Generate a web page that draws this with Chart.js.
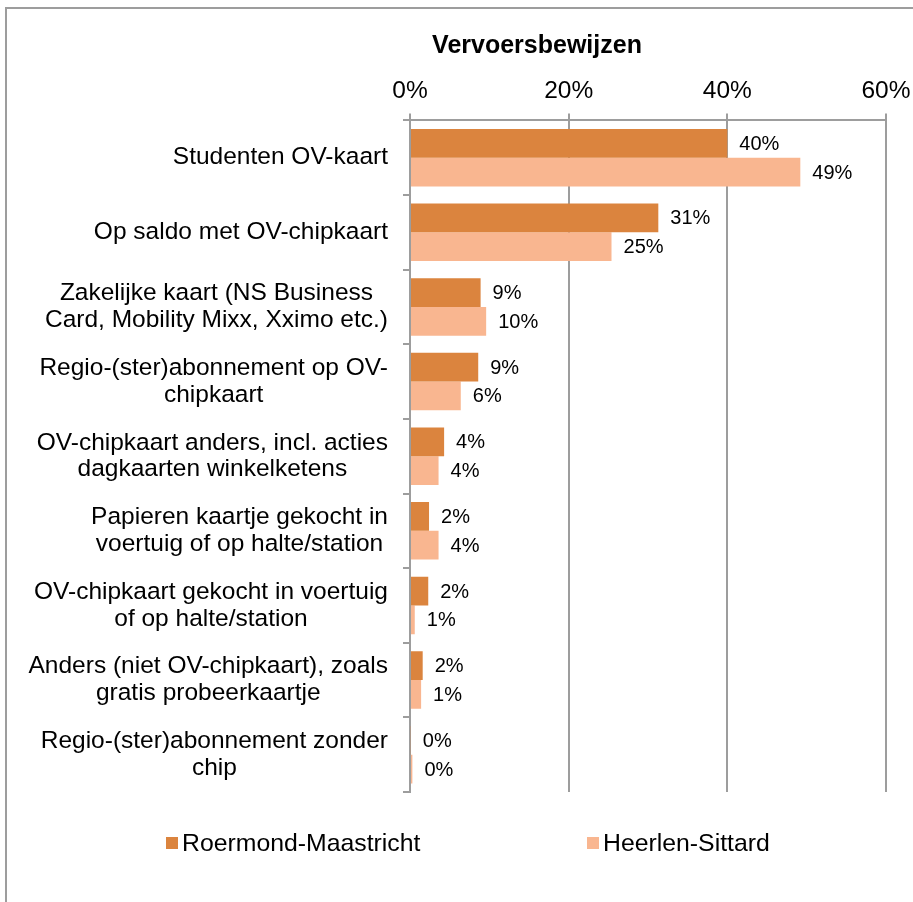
<!DOCTYPE html>
<html lang="nl">
<head>
  <meta charset="UTF-8">
  <title>Vervoersbewijzen</title>
  <style type="text/css">
    body, html {
      margin: 0;
      padding: 0;
      background-color: #fff;
      overflow: hidden;
    }

    .frame {
      position: absolute;
      left: 5px;
      top: 7px;
      width: 1000px;
      height: 1000px;
      border-top: 2px solid #9d9d9d;
      border-left: 2px solid #9d9d9d;
    }

    .chart-box {
      position: absolute;
      left: 0;
      top: 0;
      width: 913px;
      height: 902px;
    }
  </style>
  <script src="https://cdn.jsdelivr.net/npm/chart.js"></script>
</head>
<body>
  <div class="frame"></div>
  <div class="chart-box">
    <canvas id="chart"></canvas>
  </div>

  <script>
    // categories (multi-line as in the original)
    const categories = [
      ["Studenten OV-kaart"],
      ["Op saldo met OV-chipkaart"],
      ["Zakelijke kaart (NS Business", "Card, Mobility Mixx, Xximo etc.)"],
      ["Regio-(ster)abonnement op OV-", "chipkaart"],
      ["OV-chipkaart anders, incl. acties", "dagkaarten winkelketens"],
      ["Papieren kaartje gekocht in", "voertuig of op halte/station"],
      ["OV-chipkaart gekocht in voertuig", "of op halte/station"],
      ["Anders (niet OV-chipkaart), zoals", "gratis probeerkaartje"],
      ["Regio-(ster)abonnement zonder", "chip"]
    ];

    const seriesNames = ["Roermond-Maastricht", "Heerlen-Sittard"];
    const roermondMaastricht = [40.0, 31.3, 8.9, 8.6, 4.3, 2.4, 2.3, 1.6, 0.1];
    const heerlenSittard = [49.2, 25.4, 9.6, 6.4, 3.6, 3.6, 0.6, 1.4, 0.3];
    const xTicks = [0, 20, 40, 60];

    const darkOrange = "#db843e";
    const lightOrange = "#f9b690";
    const gridGray = "#9d9d9d";
    const fontFamily = '"Liberation Sans", Arial, sans-serif';

    Chart.defaults.font.family = fontFamily;
    Chart.defaults.color = "#000";

    // category labels: right aligned block, lines centred inside the block
    const categoryLabels = {
      id: "categoryLabels",
      afterDraw(chart) {
        const ctx = chart.ctx;
        const y = chart.scales.y;
        const right = chart.chartArea.left - 22;
        const lineH = 26.7;
        ctx.save();
        ctx.font = "24.5px " + fontFamily;
        ctx.fillStyle = "#000";
        ctx.textAlign = "center";
        ctx.textBaseline = "middle";
        categories.forEach((lines, i) => {
          const cy = y.getPixelForTick(i);
          const w = Math.max(...lines.map(l => ctx.measureText(l).width));
          const cx = right - w / 2;
          lines.forEach((line, j) => {
            ctx.fillText(line, cx, cy + (j - (lines.length - 1) / 2) * lineH);
          });
        });
        ctx.restore();
      }
    };

    // value labels next to the bars
    const valueLabels = {
      id: "valueLabels",
      afterDatasetsDraw(chart) {
        const ctx = chart.ctx;
        ctx.save();
        ctx.font = "20px " + fontFamily;
        ctx.fillStyle = "#000";
        ctx.textAlign = "left";
        ctx.textBaseline = "middle";
        chart.data.datasets.forEach((ds, d) => {
          chart.getDatasetMeta(d).data.forEach((bar, i) => {
            ctx.fillText(Math.round(ds.data[i]) + "%", bar.x + 12, bar.y + 1);
          });
        });
        ctx.restore();
      }
    };

    // legend drawn at the bottom like the Excel one
    const bottomLegend = {
      id: "bottomLegend",
      afterDraw(chart) {
        const ctx = chart.ctx;
        const xs = [166, 587];
        const cy = 843;
        ctx.save();
        ctx.font = "24.8px " + fontFamily;
        ctx.textBaseline = "middle";
        ctx.textAlign = "left";
        chart.data.datasets.forEach((ds, d) => {
          ctx.fillStyle = ds.backgroundColor;
          ctx.fillRect(xs[d], cy - 6, 12, 12);
          ctx.fillStyle = "#000";
          ctx.fillText(ds.label, xs[d] + 16, cy + 1);
        });
        ctx.restore();
      }
    };

    new Chart(document.getElementById("chart"), {
      type: "bar",
      data: {
        labels: categories,
        datasets: [
          {
            label: seriesNames[0],
            data: roermondMaastricht,
            backgroundColor: darkOrange,
            categoryPercentage: 0.771,
            barPercentage: 1.0
          },
          {
            label: seriesNames[1],
            data: heerlenSittard,
            backgroundColor: lightOrange,
            categoryPercentage: 0.771,
            barPercentage: 1.0
          }
        ]
      },
      options: {
        indexAxis: "y",
        responsive: true,
        maintainAspectRatio: false,
        animation: false,
        layout: {
          padding: { left: 188, right: 27, top: 0, bottom: 110 }
        },
        scales: {
          x: {
            position: "top",
            min: 0,
            max: 60,
            afterBuildTicks: (scale) => {
              scale.ticks = xTicks.map(v => ({ value: v }));
            },
            afterFit: (scale) => {
              scale.paddingLeft = 0;
              scale.paddingRight = 0;
            },
            ticks: {
              padding: 7,
              font: { size: 24.5 },
              color: "#000",
              callback: (v) => v + "%"
            },
            grid: {
              color: gridGray,
              lineWidth: 2,
              tickLength: 7
            },
            border: { color: gridGray, width: 2 }
          },
          y: {
            ticks: { display: false },
            grid: {
              drawOnChartArea: false,
              color: gridGray,
              lineWidth: 2,
              tickLength: 7,
              offset: true
            },
            border: { color: gridGray, width: 2 },
            afterFit: (scale) => { scale.width = 222; }
          }
        },
        plugins: {
          legend: { display: false },
          tooltip: { enabled: false },
          title: {
            display: true,
            text: "Vervoersbewijzen",
            color: "#000",
            font: { size: 25, weight: "bold" },
            padding: { top: 31, bottom: 9 }
          }
        }
      },
      plugins: [categoryLabels, valueLabels, bottomLegend]
    });
  </script>
</body>
</html>
